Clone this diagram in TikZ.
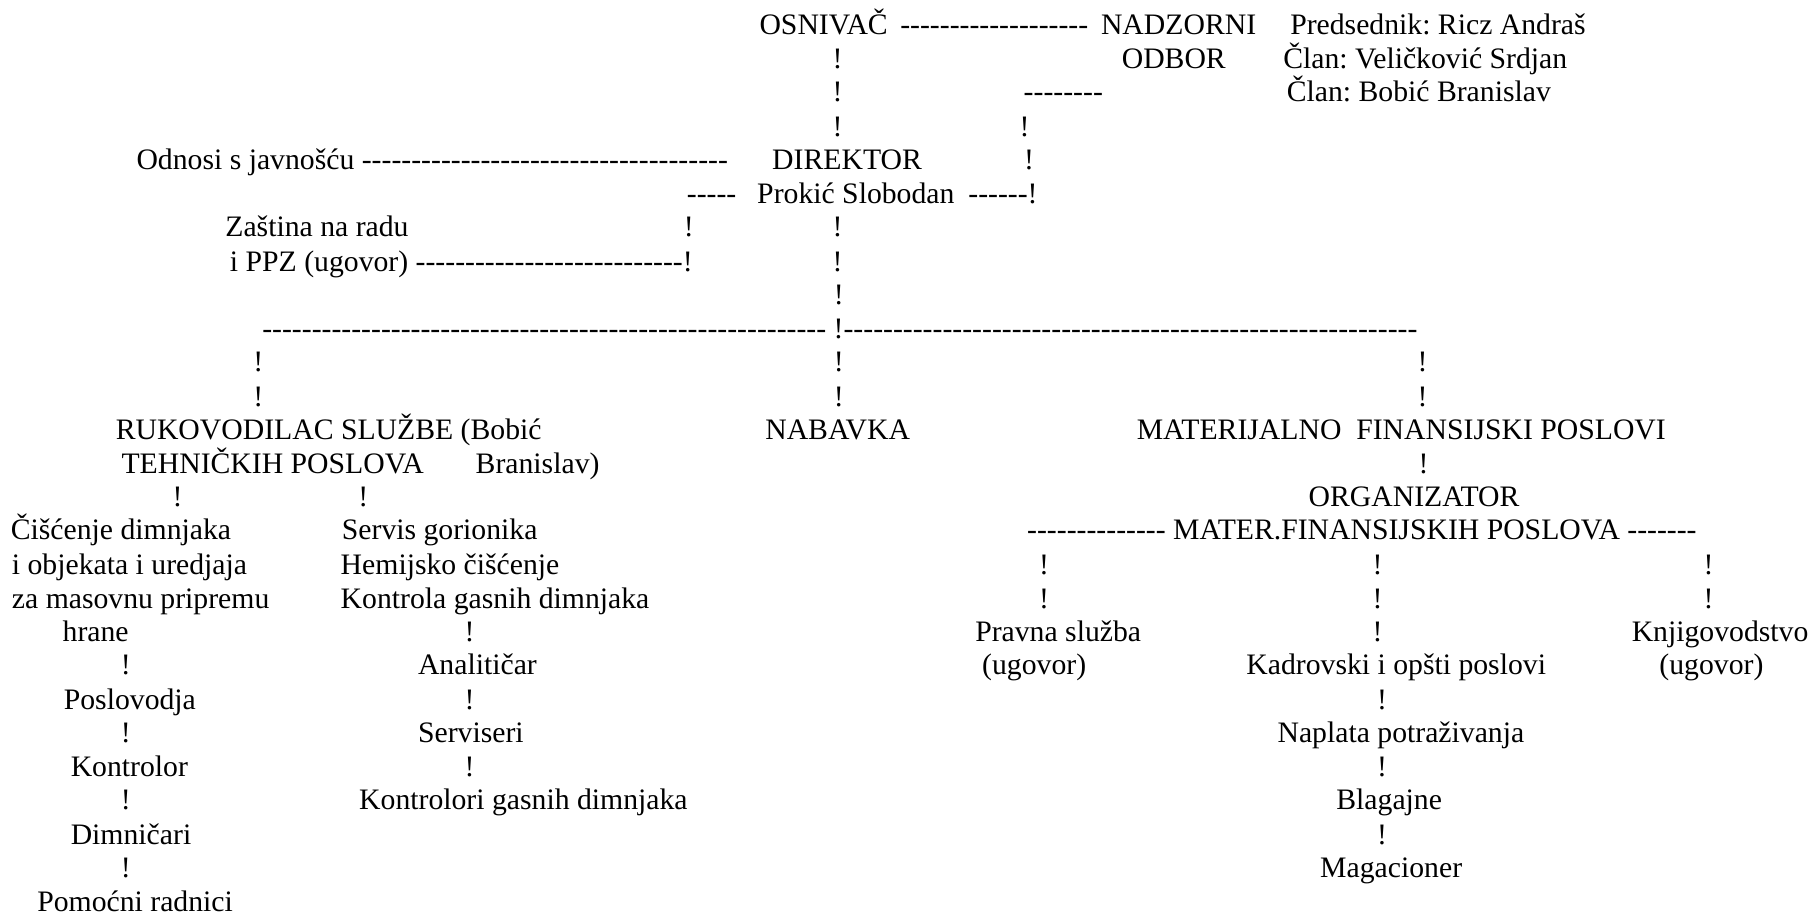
\documentclass[tikz,border=0pt]{standalone}
\usepackage{fontspec}
\setmainfont{Liberation Serif}[Ligatures=TeXOff]
\newcommand{\crtice}[1]{\foreach\k in {1,...,#1}{-}}
\begin{document}
\frenchspacing
\begin{tikzpicture}[x=0.577pt,y=0.577pt,yscale=-1,xscale=1,
  txt/.style={anchor=base west,inner sep=0pt,font=\fontsize{14.86pt}{17pt}\selectfont},
  uzv/.style={anchor=base,inner sep=0pt,font=\fontsize{14.86pt}{17pt}\selectfont}]
\useasboundingbox (0,0) rectangle (1568,795);

% vrh: osnivac, nadzorni odbor, direktor
\node[txt] (osnivac) at (658,30) {OSNIVAČ};
\node[txt] (c1) at (780,30) {\crtice{19}};
\node[txt] (nadzorni) at (954,30) {NADZORNI};
\node[txt] (predsednik) at (1118,30) {Predsednik: Ricz Andraš};
\node[uzv] (u1) at (726,59) {!};
\node[txt] (odbor) at (972,59) {ODBOR};
\node[txt] (clan1) at (1112,59) {Član: Veličković Srdjan};
\node[uzv] (u2) at (726,88) {!};
\node[txt] (c2) at (887,88) {\crtice{8}};
\node[txt] (clan2) at (1115,88) {Član: Bobić Branislav};
\node[uzv] (u3) at (726,118) {!};
\node[uzv] (u4) at (888,118) {!};
\node[txt] (odnosi) at (118,147) {Odnosi s javnošću \crtice{37}};
\node[txt] (direktor) at (669,147) {DIREKTOR};
\node[uzv] (u5) at (892,147) {!};
\node[txt] (c3) at (595,176) {\crtice{5}};
\node[txt] (prokic) at (656,176) {Prokić Slobodan};
\node[txt] (c4) at (839,176) {\crtice{6}!};
\node[txt] (zastita) at (195,205) {Zaština na radu};
\node[uzv] (u6) at (597,205) {!};
\node[uzv] (u7) at (726,205) {!};
\node[txt] (ppz) at (199,235) {i PPZ (ugovor) \crtice{27}!};
\node[uzv] (u8) at (726,235) {!};
\node[uzv] (u9) at (727,264) {!};

% razvod na tri sluzbe
\node[txt] (c5) at (227,293) {\crtice{57} !\crtice{58}};
\node[uzv] (u10) at (224,322) {!};
\node[uzv] (u11) at (727,322) {!};
\node[uzv] (u12) at (1233,322) {!};
\node[uzv] (u13) at (224,352) {!};
\node[uzv] (u14) at (727,352) {!};
\node[uzv] (u15) at (1233,352) {!};
\node[txt] (rukovodilac) at (100,381) {RUKOVODILAC SLUŽBE (Bobić};
\node[txt] (nabavka) at (663,381) {NABAVKA};
\node[txt] (materijalno) at (985,381) {MATERIJALNO\ \ FINANSIJSKI POSLOVI};
\node[txt] (tehnickih) at (105,410) {TEHNIČKIH POSLOVA};
\node[txt] (branislav) at (412,410) {Branislav)};
\node[uzv] (u16) at (1234,410) {!};

% tehnicki poslovi
\node[uzv] (u17) at (154,439) {!};
\node[uzv] (u18) at (315,439) {!};
\node[txt] (ciscenje) at (9,468) {Čišćenje dimnjaka};
\node[txt] (objekti) at (10,498) {i objekata i uredjaja};
\node[txt] (masovnu) at (10,527) {za masovnu pripremu};
\node[txt] (hrane) at (54,556) {hrane};
\node[uzv] (u19) at (109,585) {!};
\node[txt] (poslovodja) at (55,615) {Poslovodja};
\node[uzv] (u20) at (109,644) {!};
\node[txt] (kontrolor) at (61,673) {Kontrolor};
\node[uzv] (u21) at (109,702) {!};
\node[txt] (dimnicari) at (61,732) {Dimničari};
\node[uzv] (u22) at (109,761) {!};
\node[txt] (pomocni) at (32,790) {Pomoćni radnici};
\node[txt] (servis) at (296,468) {Servis gorionika};
\node[txt] (hemijsko) at (295,498) {Hemijsko čišćenje};
\node[txt] (kontrola) at (295,527) {Kontrola gasnih dimnjaka};
\node[uzv] (u23) at (407,556) {!};
\node[txt] (analiticar) at (362,585) {Analitičar};
\node[uzv] (u24) at (407,615) {!};
\node[txt] (serviseri) at (362,644) {Serviseri};
\node[uzv] (u25) at (407,673) {!};
\node[txt] (kontrolori) at (311,702) {Kontrolori gasnih dimnjaka};

% materijalno finansijski poslovi
\node[txt] (organizator) at (1134,439) {ORGANIZATOR};
\node[txt] (mater) at (890,468) {\crtice{14} MATER.FINANSIJSKIH POSLOVA \crtice{7}};
\node[uzv] (u26) at (905,498) {!};
\node[uzv] (u27) at (1194,498) {!};
\node[uzv] (u28) at (1481,498) {!};
\node[uzv] (u29) at (905,527) {!};
\node[uzv] (u30) at (1194,527) {!};
\node[uzv] (u31) at (1481,527) {!};
\node[txt] (pravna) at (845,556) {Pravna služba};
\node[uzv] (u32) at (1194,556) {!};
\node[txt] (knjigovodstvo) at (1414,556) {Knjigovodstvo};
\node[txt] (ugovor1) at (851,585) {(ugovor)};
\node[txt] (kadrovski) at (1080,585) {Kadrovski i opšti poslovi};
\node[txt] (ugovor2) at (1438,585) {(ugovor)};
\node[uzv] (u33) at (1198,615) {!};
\node[txt] (naplata) at (1107,644) {Naplata potraživanja};
\node[uzv] (u34) at (1198,673) {!};
\node[txt] (blagajne) at (1158,702) {Blagajne};
\node[uzv] (u35) at (1198,732) {!};
\node[txt] (magacioner) at (1144,761) {Magacioner};
\end{tikzpicture}
\end{document}
